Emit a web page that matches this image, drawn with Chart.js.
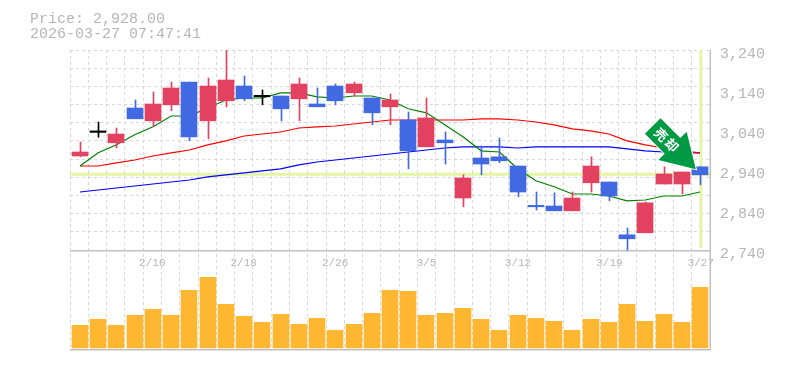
<!DOCTYPE html>
<html>
<head>
<meta charset="utf-8">
<style>
  html, body { margin: 0; padding: 0; background: #fff; }
  #wrap { position: relative; width: 785px; height: 370px; }
  #info { position: absolute; left: 30px; top: 12px; font: 15px/15px "Liberation Mono", monospace; color: #b6b6b6; white-space: pre; z-index: 2; }
</style>
<script src="https://cdn.jsdelivr.net/npm/chart.js@4"></script>
</head>
<body>
<div id="wrap">
  <div id="info">Price: 2,928.00
2026-03-27 07:47:41</div>
  <canvas id="chart" width="785" height="370"></canvas>
</div>
<script>
const dates = ["2/4","2/5","2/6","2/9","2/10","2/12","2/13","2/16","2/17","2/18","2/19","2/20","2/24","2/25","2/26","2/27","3/2","3/3","3/4","3/5","3/6","3/9","3/10","3/11","3/12","3/13","3/16","3/17","3/18","3/19","3/23","3/24","3/25","3/26","3/27"];
const shownDates = ["2/10","2/18","2/26","3/5","3/12","3/19","3/27"];

const opens  = [2975,3034,3008,3095,3063,3103,3160,3063,3113,3150,3123,3125,3118,3105,3150,3133,3120,3098,3065,2998,3015,2870,2970,2973,2950,2850,2850,2838,2908,2910,2778,2783,2905,2905,2948];
const closes = [2985,3034,3030,3068,3105,3145,3023,3150,3165,3118,3123,3093,3155,3098,3113,3155,3083,3115,2988,3070,3008,2920,2955,2963,2885,2848,2838,2870,2950,2875,2768,2858,2930,2935,2928];
const highs  = [3010,3060,3045,3115,3135,3160,3160,3170,3240,3175,3140,3125,3170,3145,3155,3160,3120,3130,3085,3120,3035,2928,3000,3020,2950,2885,2883,2885,2973,2910,2795,2860,2948,2935,2948];
const lows   = [2973,3022,2995,3068,3048,3088,3013,3018,3098,3113,3103,3063,3063,3098,3103,3125,3053,3053,2943,2998,2955,2848,2928,2958,2873,2840,2838,2838,2885,2863,2740,2783,2905,2880,2903];

const ma5  = [2950,2983,3003,3028,3048,3075,3075,3095,3115,3120,3120,3133,3133,3123,3120,3125,3125,3115,3093,3083,3053,3023,2988,2985,2943,2913,2898,2880,2880,2875,2863,2865,2875,2875,2885];
const ma25 = [2950,2950,2958,2965,2975,2983,2990,3003,3013,3025,3030,3035,3045,3048,3050,3055,3060,3065,3065,3065,3065,3065,3068,3068,3065,3060,3053,3043,3038,3030,3013,3003,2995,2988,2983];
const ma75 = [2885,2890,2895,2900,2905,2910,2915,2923,2928,2933,2938,2943,2953,2960,2965,2970,2975,2980,2985,2990,2995,2998,2998,2998,2995,2998,2998,2998,2998,2998,2993,2988,2985,2983,2983];

const volumes = [2270,2870,2270,3270,3870,3270,5770,7070,4370,3170,2570,3370,2370,2970,1770,2370,3470,5770,5670,3270,3470,3970,2870,1770,3270,2970,2670,1770,2870,2570,4370,2670,3370,2570,6070];

const priceTicks = [3240,3140,3040,2940,2840,2740];
const lastPrice = 2928;

const RED = "#e2425f", BLUE = "#4169e1", BLACK = "#000000";
const candleColors = closes.map((c, i) => c > opens[i] ? RED : c < opens[i] ? BLUE : BLACK);

// 元チャートは足の間隔が少し狭いので寄せて、バーは整数ピクセルに揃える
const snapBars = {
  id: "snapBars",
  afterDatasetsUpdate(chart) {
    const { chartArea: a } = chart;
    const mid = (a.left + a.right) / 2;
    chart.data.datasets.forEach((ds, i) => {
      chart.getDatasetMeta(i).data.forEach(el => {
        const x = mid + (el.x - mid) * 0.9973;
        if (ds.type !== "bar") el.x = x;
        else el.x = ds.barThickness % 2 ? Math.round(x) + 0.5 : Math.round(x);
      });
    });
  }
};

// 枠線と現在値のライン
const frame = {
  id: "frame",
  beforeDatasetsDraw(chart) {
    const { ctx, chartArea: a, scales: { x, y } } = chart;
    const lineY = y.getPixelForValue(lastPrice);
    const bottomY = y.getPixelForValue(2740);
    const lastX = x.getPixelForValue(dates.length - 1);
    ctx.save();
    ctx.fillStyle = "#e4f5a6";
    ctx.fillRect(a.left, lineY - 2, a.width, 3);
    ctx.fillRect(lastX - 1.5, a.top, 3, bottomY - a.top - 2);
    ctx.fillStyle = "#c0c0c0";
    ctx.fillRect(a.left, bottomY, a.width, 1.5);
    ctx.fillRect(a.left, a.bottom - 1, a.width, 1.5);
    ctx.fillRect(a.right - 0.5, a.top, 1.5, a.height);
    ctx.restore();
  },
  // 矢印マーク
  afterDatasetsDraw(chart) {
    const { ctx, scales: { x, y } } = chart;
    const tipX = x.getPixelForValue(dates.length - 1) - 5;
    const tipY = y.getPixelForValue(2942);
    ctx.save();
    ctx.translate(tipX, tipY);
    ctx.rotate(Math.PI / 4);
    ctx.beginPath();
    ctx.moveTo(0, 0);
    ctx.lineTo(-33, -20);
    ctx.lineTo(-33, -11);
    ctx.lineTo(-61, -11);
    ctx.lineTo(-61, 11);
    ctx.lineTo(-33, 11);
    ctx.lineTo(-33, 20);
    ctx.closePath();
    ctx.fillStyle = "#009944";
    ctx.strokeStyle = "#ffffff";
    ctx.lineWidth = 2;
    ctx.stroke();
    ctx.fill();
    ctx.fillStyle = "#ffffff";
    ctx.font = "bold 13px 'Noto Sans CJK JP'";
    ctx.textAlign = "center";
    ctx.textBaseline = "middle";
    ctx.fillText("売", -49, 0);
    ctx.fillText("却", -34, 0);
    ctx.restore();
  }
};

new Chart(document.getElementById("chart"), {
  data: {
    labels: dates,
    datasets: [
      { type: "bar", label: "wick", data: lows.map((l, i) => [l, highs[i]]), backgroundColor: candleColors, barThickness: 1, grouped: false, order: 2 },
      { type: "bar", label: "body", data: opens.map((o, i) => [o, closes[i]]), backgroundColor: candleColors, barThickness: 16, minBarLength: 1.5, grouped: false, order: 1 },
      { type: "bar", label: "volume", data: volumes, yAxisID: "yVol", backgroundColor: "#ffb732", barThickness: 16, grouped: false, order: 3 },
      { type: "line", label: "ma5", data: ma5, borderColor: "#008000", borderWidth: 1.2, pointRadius: 0, order: 4 },
      { type: "line", label: "ma25", data: ma25, borderColor: "#ff0000", borderWidth: 1.2, pointRadius: 0, order: 5 },
      { type: "line", label: "ma75", data: ma75, borderColor: "#0000ff", borderWidth: 1.2, pointRadius: 0, order: 6 }
    ]
  },
  options: {
    responsive: false,
    animation: false,
    layout: { padding: { left: 70, top: 50, right: 0, bottom: 20 } },
    plugins: { legend: { display: false }, tooltip: { enabled: false } },
    scales: {
      x: {
        type: "category",
        position: { y: 2740 },
        grid: { color: "#d8d8d8", offset: true, drawTicks: false },
        border: { display: false, dash: [3, 3] },
        ticks: {
          autoSkip: false, maxRotation: 0, padding: 6,
          color: "#b6b6b6", font: { family: "Liberation Mono", size: 11 },
          callback(v) { const d = dates[v]; return shownDates.includes(d) ? d : ""; }
        }
      },
      y: {
        position: "left", min: 2490, max: 3240,
        grid: { color: "#d8d8d8", drawTicks: false },
        border: { display: false, dash: [3, 3] },
        ticks: { display: false },
        afterBuildTicks(s) { s.ticks = Array.from({ length: 12 }, (_, k) => ({ value: 3240 - k * 500 / 11 })); },
        afterFit(s) { s.width = 0; }
      },
      yPrice: {
        position: "right", min: 2490, max: 3240,
        grid: { display: false },
        border: { display: false },
        ticks: {
          padding: 2, labelOffset: 4, color: "#b6b6b6",
          font: { family: "Liberation Mono", size: 15 },
          callback(v) { return v.toLocaleString("en-US"); }
        },
        afterBuildTicks(s) { s.ticks = priceTicks.map(value => ({ value })); },
        afterFit(s) { s.width = 75; }
      },
      yVol: {
        display: false, min: -200, max: 29800
      }
    }
  },
  plugins: [snapBars, frame]
});
</script>
</body>
</html>
